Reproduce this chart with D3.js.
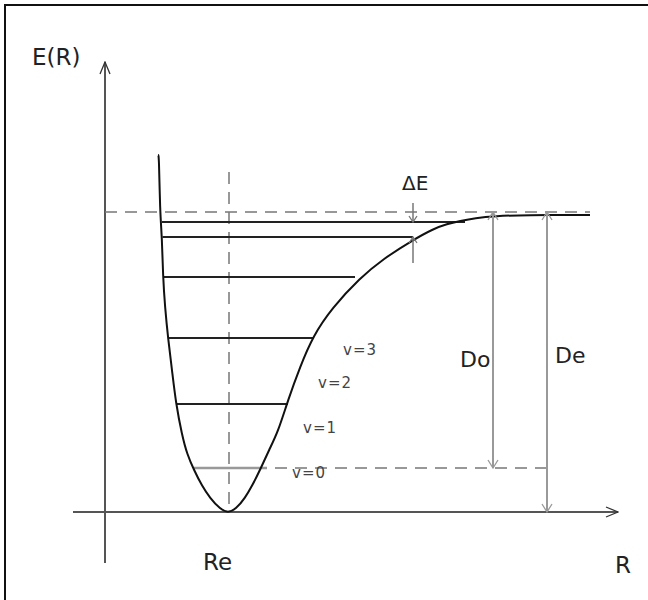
<!DOCTYPE html>
<meta charset="utf-8">
<style>

body {
  margin: 0;
  background: #fff;
}

text {
  font-family: "DejaVu Sans", sans-serif;
  fill: #222;
}

</style>
<body>
<script src="https://cdn.jsdelivr.net/npm/d3@7/dist/d3.min.js"></script>
<script>

var width = 648,
    height = 600;

// potential well E(R)
var curveR = [0.53, 0.54, 0.55, 0.57, 0.58, 0.60, 0.63, 0.67, 0.71, 0.77, 0.82, 0.89, 0.97, 1.05, 1.15, 1.23,
              1.31, 1.40, 1.47, 1.56, 1.64, 1.73, 1.83, 1.95, 2.08, 2.27, 2.55, 2.78, 3.08, 3.28,
              3.42, 3.55, 3.70, 3.90, 4.20, 4.85];
var curveE = [3.57, 3.57, 3.00, 2.75, 2.35, 2.05, 1.74, 1.42, 1.08, 0.77, 0.58, 0.42, 0.26, 0.14, 0.03, -0.01,
              0.03, 0.14, 0.26, 0.44, 0.62, 0.80, 1.12, 1.45, 1.76, 2.04, 2.34, 2.53, 2.72, 2.83,
              2.88, 2.91, 2.94, 2.96, 2.97, 2.97];

// vibrational levels (energy, left and right turning points)
var levelE     = [0.44, 1.08, 1.74, 2.35, 2.75, 2.90];
var levelLeft  = [0.89, 0.71, 0.63, 0.59, 0.575, 0.57];
var levelRight = [1.62, 1.83, 2.08, 2.50, 3.08, 3.60];

var vibLabels = ["v=0", "v=1", "v=2", "v=3"];
var vibLabelR = [1.87, 1.98, 2.13, 2.38];
var vibLabelE = [0.34, 0.79, 1.24, 1.57];

var Re = 1.24,
    dissocE = 3.00,
    zeroE = levelE[0];

var x = d3.scaleLinear().domain([0, 1]).range([105, 205]),
    y = d3.scaleLinear().domain([0, 1]).range([512, 412]);

var svg = d3.select("body").append("svg")
    .attr("width", width)
    .attr("height", height);

var defs = svg.append("defs");

function marker(id, len, half, color) {
  defs.append("marker")
      .attr("id", id)
      .attr("markerUnits", "userSpaceOnUse")
      .attr("viewBox", (-len - 1) + " " + (-half - 1) + " " + (len + 2) + " " + (2 * half + 2))
      .attr("refX", 0).attr("refY", 0)
      .attr("markerWidth", len + 2).attr("markerHeight", 2 * half + 2)
      .attr("orient", "auto-start-reverse")
    .append("path")
      .attr("d", "M" + (-len) + "," + (-half) + "L0,0L" + (-len) + "," + half)
      .attr("fill", "none")
      .attr("stroke", color)
      .attr("stroke-width", 1.3);
}
marker("axisHead", 12, 5, "#333");
marker("grayHead", 8, 5, "#999");
marker("dHead", 6, 4, "#777");

// frame
svg.append("path")
    .attr("d", "M5,600V5H648")
    .attr("fill", "none")
    .attr("stroke", "#111")
    .attr("stroke-width", 2);

// axes
svg.append("line")
    .attr("x1", x(-0.32)).attr("y1", y(0))
    .attr("x2", x(5.13)).attr("y2", y(0))
    .attr("stroke", "#555").attr("stroke-width", 2.2)
    .attr("marker-end", "url(#axisHead)");

svg.append("line")
    .attr("x1", x(0)).attr("y1", y(-0.51))
    .attr("x2", x(0)).attr("y2", y(4.50))
    .attr("stroke", "#555").attr("stroke-width", 2)
    .attr("marker-end", "url(#axisHead)");

// dashed guides
var dash = "12,8";
svg.append("line")
    .attr("x1", x(0)).attr("y1", y(dissocE))
    .attr("x2", x(4.85)).attr("y2", y(dissocE))
    .attr("stroke", "#777").attr("stroke-width", 1.5)
    .attr("stroke-dasharray", dash);

svg.append("line")
    .attr("x1", x(Re)).attr("y1", y(3.40))
    .attr("x2", x(Re)).attr("y2", y(0))
    .attr("stroke", "#777").attr("stroke-width", 1.5)
    .attr("stroke-dasharray", dash);

svg.append("line")
    .attr("x1", x(1.70)).attr("y1", y(zeroE))
    .attr("x2", x(4.42)).attr("y2", y(zeroE))
    .attr("stroke", "#777").attr("stroke-width", 1.5)
    .attr("stroke-dasharray", dash);

// levels
svg.selectAll(".level")
    .data(levelE)
  .enter().append("line")
    .attr("class", "level")
    .attr("x1", function(d, i) { return x(levelLeft[i]); })
    .attr("x2", function(d, i) { return x(levelRight[i]); })
    .attr("y1", function(d) { return y(d); })
    .attr("y2", function(d) { return y(d); })
    .attr("stroke", function(d, i) { return i == 0 ? "#999" : "#222"; })
    .attr("stroke-width", function(d, i) { return i == 0 ? 2.5 : 2; });

// potential curve
var line = d3.line()
    .x(function(d) { return x(d[0]); })
    .y(function(d) { return y(d[1]); })
    .curve(d3.curveBasis);

svg.append("path")
    .datum(d3.zip(curveR, curveE))
    .attr("d", line)
    .attr("fill", "none")
    .attr("stroke", "#111")
    .attr("stroke-width", 2);

// Do / De double arrows
[[3.88, zeroE], [4.42, 0]].forEach(function(a) {
  svg.append("line")
      .attr("x1", x(a[0])).attr("y1", y(dissocE))
      .attr("x2", x(a[0])).attr("y2", y(a[1]))
      .attr("stroke", "#999").attr("stroke-width", 2)
      .attr("marker-start", "url(#grayHead)")
      .attr("marker-end", "url(#grayHead)");
});

// delta E arrows
svg.append("line")
    .attr("x1", x(3.08)).attr("y1", y(3.09))
    .attr("x2", x(3.08)).attr("y2", y(levelE[5]))
    .attr("stroke", "#777").attr("stroke-width", 1.5)
    .attr("marker-end", "url(#dHead)");
svg.append("line")
    .attr("x1", x(3.08)).attr("y1", y(2.49))
    .attr("x2", x(3.08)).attr("y2", y(levelE[4]))
    .attr("stroke", "#777").attr("stroke-width", 1.5)
    .attr("marker-end", "url(#dHead)");

// labels
var labels = [
  {t: "E(R)", r: -0.73, e: 4.47, s: 23},
  {t: "Re", r: 0.98, e: -0.58, s: 23},
  {t: "R", r: 5.10, e: -0.61, s: 23},
  {t: "Do", r: 3.55, e: 1.45, s: 22},
  {t: "De", r: 4.50, e: 1.49, s: 22},
  {t: "\u0394E", r: 2.97, e: 3.22, s: 20}
];

svg.selectAll(".lab")
    .data(labels)
  .enter().append("text")
    .attr("class", "lab")
    .attr("x", function(d) { return x(d.r); })
    .attr("y", function(d) { return y(d.e); })
    .style("font-size", function(d) { return d.s + "px"; })
    .text(function(d) { return d.t; });

svg.selectAll(".vlab")
    .data(vibLabels)
  .enter().append("text")
    .attr("class", "vlab")
    .attr("x", function(d, i) { return x(vibLabelR[i]); })
    .attr("y", function(d, i) { return y(vibLabelE[i]); })
    .style("font-size", "15px")
    .style("fill", "#444")
    .attr("textLength", 33)
    .text(function(d) { return d; });

</script>
